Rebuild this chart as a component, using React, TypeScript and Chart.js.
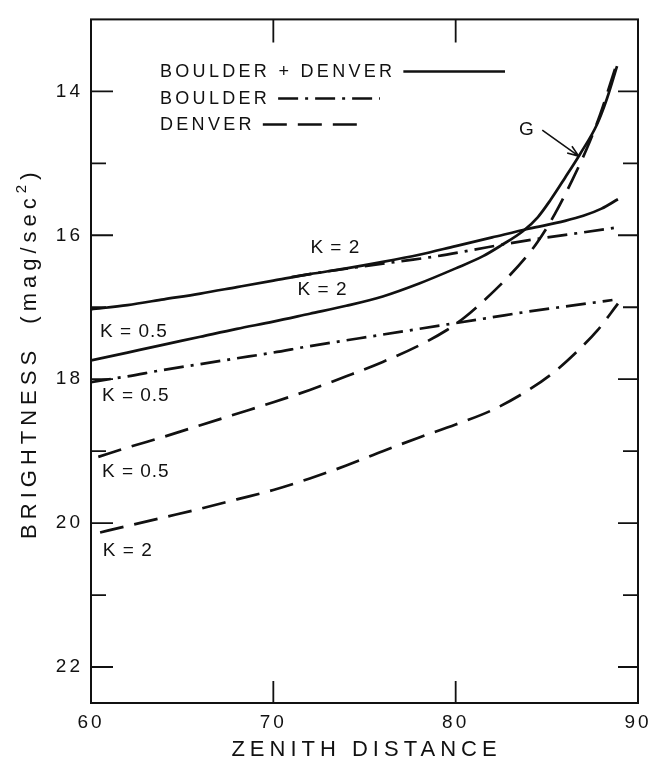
import React, { useEffect, useRef } from "react";
import { Chart, registerables } from "chart.js";

Chart.register(...registerables);

// ---- data (zenith distance in degrees, brightness in mag/sec^2) ----
const zenithBD_K2 = [60, 62, 64, 66, 68, 70, 72, 74, 76, 78, 80, 82, 84, 86, 87, 88, 88.9];
const brightBD_K2 = [17.03, 16.97, 16.89, 16.81, 16.72, 16.63, 16.54, 16.46, 16.37, 16.27, 16.15, 16.03, 15.91, 15.8, 15.73, 15.63, 15.5];

const zenithBD_K05 = [60, 62, 64, 66, 68, 70, 72, 74, 76, 78, 80, 81.5, 82.5, 83.7, 84.5, 85.2, 86, 86.8, 87.75, 88.3, 88.85];
const brightBD_K05 = [17.74, 17.63, 17.52, 17.41, 17.3, 17.2, 17.09, 16.98, 16.85, 16.67, 16.46, 16.29, 16.14, 15.94, 15.75, 15.51, 15.2, 14.88, 14.46, 14.1, 13.65];

const zenithB_K2 = [71, 73, 75, 77, 79, 81, 83, 85, 87, 88.9];
const brightB_K2 = [16.58, 16.5, 16.43, 16.36, 16.29, 16.2, 16.11, 16.03, 15.96, 15.89];

const zenithB_K05 = [60, 62, 64, 66, 68, 70, 72, 74, 76, 78, 80, 82, 84, 86, 88.6];
const brightB_K05 = [18.04, 17.96, 17.87, 17.79, 17.71, 17.63, 17.54, 17.46, 17.38, 17.3, 17.22, 17.14, 17.06, 16.99, 16.9];

const zenithD_K05 = [60.4, 62, 64, 66, 68, 70, 72, 74, 76, 78, 79.5, 80.5, 81.5, 82.8, 83.9, 84.5, 85.45, 86.4, 87.2, 87.9, 88.75];
const brightD_K05 = [19.08, 18.95, 18.8, 18.64, 18.48, 18.32, 18.15, 17.96, 17.76, 17.53, 17.32, 17.14, 16.92, 16.6, 16.29, 16.09, 15.7, 15.23, 14.79, 14.34, 13.68];

const zenithD_K2 = [60.5, 62, 64, 66, 68, 70, 72, 74, 76, 78, 80, 82, 84, 85.5, 86.8, 87.75, 88.9];
const brightD_K2 = [20.13, 20.04, 19.92, 19.8, 19.67, 19.54, 19.38, 19.2, 19.0, 18.81, 18.63, 18.43, 18.15, 17.88, 17.58, 17.33, 16.95];

const xTicks = [60, 70, 80, 90];
const yTicks = [14, 16, 18, 20, 22];
const yMinorTicks = [15, 17, 19, 21];

const legendLabels = ["BOULDER + DENVER", "BOULDER", "DENVER"];

// curve labels anchored in data units
const curveLabels = [
  { text: "K = 2", x: 73.4, y: 16.18, align: "center" },
  { text: "K = 2", x: 72.7, y: 16.76, align: "center" },
  { text: "K = 0.5", x: 60.5, y: 17.34, align: "left" },
  { text: "K = 0.5", x: 60.6, y: 18.23, align: "left" },
  { text: "K = 0.5", x: 60.6, y: 19.28, align: "left" },
  { text: "K = 2", x: 60.65, y: 20.38, align: "left" },
  { text: "G", x: 83.9, y: 14.53, align: "center" },
];
const arrowFrom = { x: 84.75, y: 14.54 };
const arrowTo = { x: 86.75, y: 14.9 };

const FONT = '"Liberation Sans", Arial, sans-serif';
const INK = "#111";
const SOLID: number[] = [];
const DASHDOT = [20, 7, 3, 7];
const DASHED = [24, 11];

const zip = (xs: number[], ys: number[]) => xs.map((x, i) => ({ x, y: ys[i] }));

const line = (label: string, xs: number[], ys: number[], dash: number[]) => ({
  label,
  data: zip(xs, ys),
  borderColor: INK,
  borderWidth: 2.7,
  borderDash: dash,
  pointRadius: 0,
  fill: false,
  cubicInterpolationMode: "monotone" as const,
});

const decorPlugin = {
  id: "decor",
  beforeDraw(chart: any) {
    chart.ctx.letterSpacing = "3px";
  },
  afterDraw(chart: any) {
    const { ctx, chartArea: ca, scales } = chart;
    const xs = scales.x;
    const ys = scales.y;
    ctx.save();
    ctx.strokeStyle = INK;
    ctx.fillStyle = INK;
    ctx.setLineDash([]);
    ctx.lineWidth = 2;
    ctx.strokeRect(ca.left, ca.top, ca.right - ca.left, ca.bottom - ca.top);

    // inward ticks
    ctx.lineWidth = 1.8;
    ctx.beginPath();
    yTicks.forEach((v) => {
      const p = ys.getPixelForValue(v);
      ctx.moveTo(ca.left, p);
      ctx.lineTo(ca.left + 22, p);
      ctx.moveTo(ca.right, p);
      ctx.lineTo(ca.right - 20, p);
    });
    yMinorTicks.forEach((v) => {
      const p = ys.getPixelForValue(v);
      ctx.moveTo(ca.left, p);
      ctx.lineTo(ca.left + 15, p);
      ctx.moveTo(ca.right, p);
      ctx.lineTo(ca.right - 15, p);
    });
    xTicks.slice(1, -1).forEach((v) => {
      const p = xs.getPixelForValue(v);
      ctx.moveTo(p, ca.bottom);
      ctx.lineTo(p, ca.bottom - 22);
      ctx.moveTo(p, ca.top);
      ctx.lineTo(p, ca.top + 23);
    });
    ctx.stroke();

    // axis titles
    ctx.textBaseline = "middle";
    ctx.font = `22px ${FONT}`;
    ctx.letterSpacing = "5px";
    ctx.textAlign = "center";
    ctx.fillText("ZENITH DISTANCE", (ca.left + ca.right) / 2 + 2, 750);

    ctx.save();
    ctx.translate(30, (ca.top + ca.bottom) / 2 - 8);
    ctx.rotate(-Math.PI / 2);
    const main = "BRIGHTNESS  (mag/sec";
    ctx.font = `22px ${FONT}`;
    const w1 = ctx.measureText(main).width;
    ctx.font = `15px ${FONT}`;
    const w2 = ctx.measureText("2").width;
    ctx.font = `22px ${FONT}`;
    const w3 = ctx.measureText(")").width;
    const total = w1 + w2 + w3;
    ctx.textAlign = "left";
    let cx = -total / 2;
    ctx.fillText(main, cx, 0);
    cx += w1;
    ctx.font = `15px ${FONT}`;
    ctx.fillText("2", cx, -8);
    cx += w2;
    ctx.font = `22px ${FONT}`;
    ctx.fillText(")", cx, 0);
    ctx.restore();

    // curve labels
    ctx.font = `19px ${FONT}`;
    ctx.letterSpacing = "1px";
    curveLabels.forEach((l) => {
      ctx.textAlign = l.align;
      ctx.fillText(l.text, xs.getPixelForValue(l.x), ys.getPixelForValue(l.y));
    });

    // arrow to curve G
    const ax0 = xs.getPixelForValue(arrowFrom.x);
    const ay0 = ys.getPixelForValue(arrowFrom.y);
    const ax1 = xs.getPixelForValue(arrowTo.x);
    const ay1 = ys.getPixelForValue(arrowTo.y);
    ctx.lineWidth = 1.6;
    ctx.beginPath();
    ctx.moveTo(ax0, ay0);
    ctx.lineTo(ax1, ay1);
    const ang = Math.atan2(ay1 - ay0, ax1 - ax0);
    const hl = 12;
    ctx.moveTo(ax1, ay1);
    ctx.lineTo(ax1 - hl * Math.cos(ang - 0.35), ay1 - hl * Math.sin(ang - 0.35));
    ctx.moveTo(ax1, ay1);
    ctx.lineTo(ax1 - hl * Math.cos(ang + 0.35), ay1 - hl * Math.sin(ang + 0.35));
    ctx.stroke();

    // legend
    ctx.font = `18px ${FONT}`;
    ctx.letterSpacing = "3.3px";
    ctx.textAlign = "left";
    const lx = ca.left + 69;
    const rows = [ca.top + 53, ca.top + 80, ca.top + 106];
    const dashes = [SOLID, DASHDOT, DASHED];
    const sampleEnds = [ca.left + 414, ca.left + 289, ca.left + 276];
    legendLabels.forEach((t, i) => {
      ctx.fillText(t, lx, rows[i]);
      const tw = ctx.measureText(t).width;
      ctx.save();
      ctx.lineWidth = 2.5;
      ctx.setLineDash(dashes[i]);
      ctx.beginPath();
      ctx.moveTo(lx + tw + 8, rows[i] - 1);
      ctx.lineTo(sampleEnds[i], rows[i] - 1);
      ctx.stroke();
      ctx.restore();
    });
    ctx.restore();
  },
};

export default function App() {
  const ref = useRef<HTMLCanvasElement>(null);
  useEffect(() => {
    const chart = new Chart(ref.current as HTMLCanvasElement, {
      type: "line",
      data: {
        datasets: [
          line("BOULDER + DENVER K = 2", zenithBD_K2, brightBD_K2, SOLID),
          line("BOULDER + DENVER K = 0.5", zenithBD_K05, brightBD_K05, SOLID),
          line("BOULDER K = 2", zenithB_K2, brightB_K2, DASHDOT),
          line("BOULDER K = 0.5", zenithB_K05, brightB_K05, DASHDOT),
          line("DENVER K = 0.5", zenithD_K05, brightD_K05, DASHED),
          line("DENVER K = 2", zenithD_K2, brightD_K2, DASHED),
        ],
      },
      options: {
        animation: false,
        responsive: false,
        devicePixelRatio: 1,
        layout: { padding: { left: 0, top: 8, right: 23, bottom: 0 } },
        plugins: { legend: { display: false }, tooltip: { enabled: false } },
        scales: {
          x: {
            type: "linear",
            min: 60,
            max: 90,
            afterFit: (s: any) => {
              s.height = 58;
            },
            afterBuildTicks: (s: any) => {
              s.ticks = xTicks.map((v) => ({ value: v }));
            },
            grid: { display: false, drawTicks: false },
            border: { display: false },
            ticks: { color: INK, padding: 8, font: { family: FONT, size: 19 } },
          },
          y: {
            type: "linear",
            reverse: true,
            min: 13,
            max: 22.5,
            afterFit: (s: any) => {
              s.width = 91;
            },
            afterBuildTicks: (s: any) => {
              s.ticks = yTicks.map((v) => ({ value: v }));
            },
            grid: { display: false, drawTicks: false },
            border: { display: false },
            ticks: { color: INK, padding: 8, font: { family: FONT, size: 19 } },
          },
        },
      },
      plugins: [decorPlugin],
    } as any);
    return () => chart.destroy();
  }, []);
  return (
    <div style={{ position: "absolute", left: 0, top: 0, width: 661, height: 761, background: "#fff" }}>
      <canvas ref={ref} width={661} height={761} style={{ display: "block" }} />
    </div>
  );
}
